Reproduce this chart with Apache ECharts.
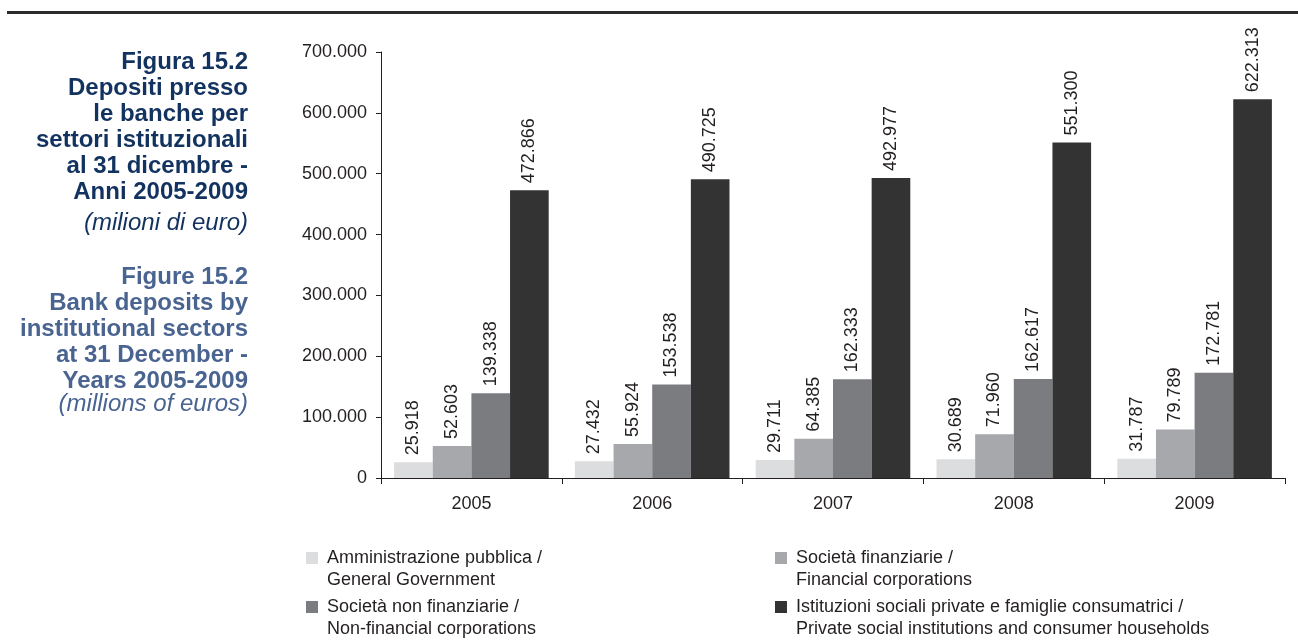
<!DOCTYPE html>
<html><head><meta charset="utf-8">
<script src="https://cdn.jsdelivr.net/npm/echarts@6/dist/echarts.min.js"></script>
<style>html,body{margin:0;padding:0;background:#fff}#c{width:1298px;height:642px}</style>
</head><body><div id="c"></div>
<script>
const years = ['2005', '2006', '2007', '2008', '2009'];
const amministrazionePubblica = [25918, 27432, 29711, 30689, 31787];
const societaFinanziarie = [52603, 55924, 64385, 71960, 79789];
const societaNonFinanziarie = [139338, 153538, 162333, 162617, 172781];
const istituzioniFamiglie = [472866, 490725, 492977, 551300, 622313];
const seriesNames = [
  'Amministrazione pubblica /\nGeneral Government',
  'Società finanziarie /\nFinancial corporations',
  'Società non finanziarie /\nNon-financial corporations',
  'Istituzioni sociali private e famiglie consumatrici /\nPrivate social institutions and consumer households'
];
const seriesData = [amministrazionePubblica, societaFinanziarie, societaNonFinanziarie, istituzioniFamiglie];
const seriesColors = ['#dcdddf', '#a7a8ab', '#7b7c80', '#333333'];
const titleIt = 'Figura 15.2\nDepositi presso\nle banche per\nsettori istituzionali\nal 31 dicembre -\nAnni 2005-2009';
const unitIt = '(milioni di euro)';
const titleEn = 'Figure 15.2\nBank deposits by\ninstitutional sectors\nat 31 December -\nYears 2005-2009';
const unitEn = '(millions of euros)';

const FONT = '"Liberation Sans", Arial, sans-serif';
const TXT = '#231f20';
const fmt = v => String(v).replace(/\B(?=(\d{3})+(?!\d))/g, '.');

const chart = echarts.init(document.getElementById('c'), null, {renderer: 'canvas'});
const legendPos = [[306, 558], [775, 558], [306, 607], [775, 607]];
chart.setOption({
  animation: false,
  backgroundColor: '#ffffff',
  textStyle: {fontFamily: FONT},
  graphic: [{type: 'rect', shape: {x: 7, y: 11, width: 1291, height: 3}, style: {fill: '#2b2b2b'}}],
  title: [
    {text: titleIt, left: 248, top: 49, textAlign: 'right', padding: 0,
     textStyle: {fontFamily: FONT, fontSize: 24, fontWeight: 'bold', lineHeight: 26, color: '#12325f'}},
    {text: unitIt, left: 248, top: 210, textAlign: 'right', padding: 0,
     textStyle: {fontFamily: FONT, fontSize: 24, fontWeight: 'normal', fontStyle: 'italic', lineHeight: 26, color: '#12325f'}},
    {text: titleEn, left: 248, top: 264, textAlign: 'right', padding: 0,
     textStyle: {fontFamily: FONT, fontSize: 24, fontWeight: 'bold', lineHeight: 26, color: '#4a6491'}},
    {text: unitEn, left: 248, top: 391, textAlign: 'right', padding: 0,
     textStyle: {fontFamily: FONT, fontSize: 24, fontWeight: 'normal', fontStyle: 'italic', lineHeight: 26, color: '#4a6491'}}
  ],
  legend: seriesNames.map((n, i) => ({
    data: [n], left: legendPos[i][0], top: legendPos[i][1] - 33, padding: 0,
    itemWidth: 12, itemHeight: 12, icon: 'rect',
    formatter: name => '\n' + name,
    textStyle: {fontFamily: FONT, fontSize: 18, lineHeight: 22, color: TXT, padding: [0, 0, 0, 4]}
  })),
  grid: {left: 381, right: 13, top: 52, bottom: 164, containLabel: false},
  xAxis: {
    type: 'category', data: years,
    axisLine: {show: true, lineStyle: {color: TXT, width: 1}},
    axisTick: {show: true, length: 6, lineStyle: {color: TXT}},
    axisLabel: {fontFamily: FONT, fontSize: 18, color: TXT, margin: 17},
    splitLine: {show: false}
  },
  yAxis: {
    type: 'value', min: 0, max: 700000, interval: 100000,
    axisLine: {show: true, lineStyle: {color: TXT, width: 1}},
    axisTick: {show: true, length: 5, lineStyle: {color: TXT}},
    axisLabel: {fontFamily: FONT, fontSize: 18, color: TXT, margin: 14, formatter: v => fmt(v)},
    splitLine: {show: false}
  },
  series: seriesNames.map((n, i) => ({
    name: n, type: 'bar', data: seriesData[i], barGap: '0%', barCategoryGap: '14.5%',
    itemStyle: {color: seriesColors[i]},
    label: {show: true, position: 'top', rotate: 90, align: 'left', verticalAlign: 'middle', distance: 7,
            fontFamily: FONT, fontSize: 18, color: TXT, formatter: p => fmt(p.value)}
  }))
});
</script></body></html>
